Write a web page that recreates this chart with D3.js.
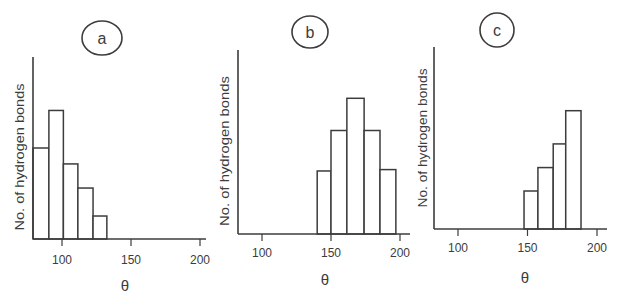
<!DOCTYPE html>
<html>
<head>
<meta charset="utf-8">
<script src="https://cdn.jsdelivr.net/npm/d3@7"></script>
<style>
  html, body { margin: 0; padding: 0; background: #fff; }
  svg { display: block; font-family: "Liberation Sans", Arial, sans-serif; }
</style>
</head>
<body>
<svg id="chart" width="618" height="294"></svg>
<script>
// ── Data ────────────────────────────────────────────────
const panelNames = ['a', 'b', 'c'];
const tickValues = [100, 150, 200];
const yLabel = 'No. of hydrogen bonds';
const xLabel = 'θ';

// bin edges (θ, degrees) and bar heights (no. of bonds, arbitrary units)
const edgesA = [79, 90.5, 101, 111.5, 122.5, 132.5];
const countsA = [40, 56.5, 33, 22.4, 10.1];
const edgesB = [140, 150, 161.5, 174, 185.5, 197];
const countsB = [27.4, 45, 59, 45, 28];
const edgesC = [147.5, 157.5, 168.5, 177.5, 188.5];
const countsC = [16.7, 27, 37.4, 52];

const yMax = 80;

// ── Layout of the three hand-drawn panels ───────────────
const layout = [
    { edges: edgesA, counts: countsA, axisX: 33, axisEnd: 206, top: 57, base: 239, t100: 62, t200: 200,
      labX: 20, labY: 157, labLen: 147, tickY: 264, thetaX: 125, thetaY: 291, cx: 102, cy: 38, rx: 20, ry: 17 },
    { edges: edgesB, counts: countsB, axisX: 238, axisEnd: 410, top: 50, base: 234, t100: 262, t200: 400,
      labX: 225, labY: 151, labLen: 150, tickY: 257, thetaX: 325, thetaY: 285, cx: 310, cy: 32, rx: 18, ry: 16 },
    { edges: edgesC, counts: countsC, axisX: 434, axisEnd: 607, top: 47, base: 229, t100: 458, t200: 597,
      labX: 423, labY: 138, labLen: 139, tickY: 252, thetaX: 525, thetaY: 283, cx: 497, cy: 30, rx: 17, ry: 17 }
];

const ink = '#3c3c3c';
const svg = d3.select('#chart');

layout.forEach((p, i) => {
    const g = svg.append('g');
    const x = d3.scaleLinear().domain([100, 200]).range([p.t100, p.t200]);
    const y = d3.scaleLinear().domain([0, yMax]).range([p.base, p.top]);

    const bins = p.counts.map((c, k) => ({ x0: p.edges[k], x1: p.edges[k + 1], c }));

    // bars
    g.append('g')
        .selectAll('rect')
        .data(bins)
        .enter()
        .append('rect')
        .attr('x', d => x(d.x0))
        .attr('y', d => y(d.c))
        .attr('width', d => x(d.x1) - x(d.x0))
        .attr('height', d => y(0) - y(d.c))
        .attr('fill', '#fff')
        .attr('stroke', ink)
        .attr('stroke-width', 1.5);

    // axes lines
    g.append('line')
        .attr('x1', p.axisX).attr('x2', p.axisX)
        .attr('y1', p.top).attr('y2', p.base)
        .attr('stroke', ink).attr('stroke-width', 1.6);
    g.append('line')
        .attr('x1', p.axisX).attr('x2', p.axisEnd)
        .attr('y1', p.base).attr('y2', p.base)
        .attr('stroke', ink).attr('stroke-width', 1.6);

    // ticks + labels
    const ticks = g.append('g')
        .selectAll('g')
        .data(tickValues)
        .enter()
        .append('g')
        .attr('transform', d => `translate(${x(d)},0)`);
    ticks.append('line')
        .attr('y1', p.base).attr('y2', p.base + 7)
        .attr('stroke', ink).attr('stroke-width', 1.2);
    ticks.append('text')
        .attr('y', p.tickY)
        .attr('text-anchor', 'middle')
        .style('font-size', '12px')
        .style('fill', ink)
        .text(d => d);

    // y label
    g.append('text')
        .attr('transform', `translate(${p.labX},${p.labY}) rotate(-90)`)
        .attr('text-anchor', 'middle')
        .attr('dy', '0.35em')
        .attr('textLength', p.labLen)
        .attr('lengthAdjust', 'spacingAndGlyphs')
        .style('font-size', '12px')
        .style('fill', ink)
        .text(yLabel);

    // x label
    g.append('text')
        .attr('x', p.thetaX).attr('y', p.thetaY)
        .attr('text-anchor', 'middle')
        .style('font-size', '15px')
        .style('fill', ink)
        .text(xLabel);

    // circled panel letter
    g.append('ellipse')
        .attr('cx', p.cx).attr('cy', p.cy)
        .attr('rx', p.rx).attr('ry', p.ry)
        .attr('fill', 'none')
        .attr('stroke', ink).attr('stroke-width', 1.6);
    g.append('text')
        .attr('x', p.cx).attr('y', p.cy)
        .attr('dy', '0.35em')
        .attr('text-anchor', 'middle')
        .style('font-size', '16px')
        .style('fill', ink)
        .text(panelNames[i]);
});
</script>
</body>
</html>
